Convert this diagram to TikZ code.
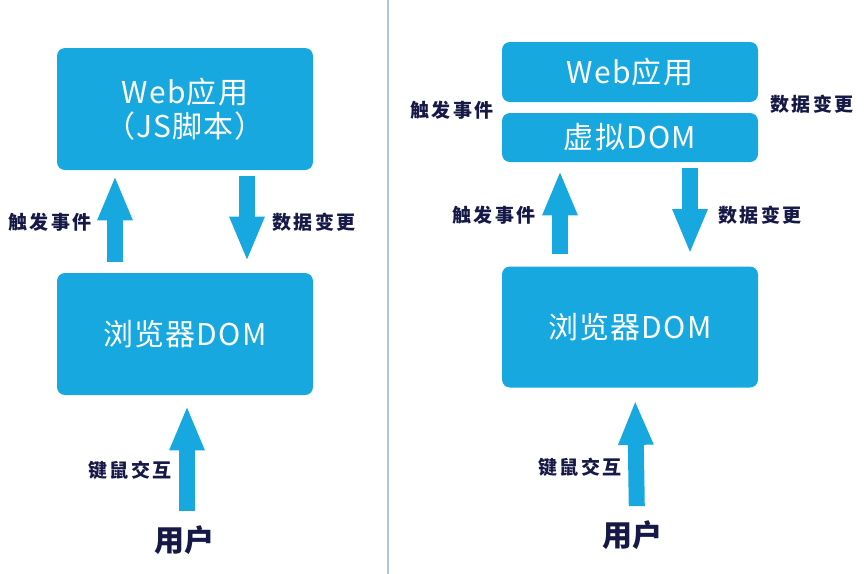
\documentclass[tikz,border=0pt]{standalone}
\usepackage{fontspec}
\setmainfont{Noto Sans CJK SC}
\usetikzlibrary{arrows.meta}
\definecolor{boxblue}{RGB}{24,168,224}
\definecolor{inkblue}{RGB}{22,24,70}
\definecolor{rulegray}{RGB}{170,200,220}
\begin{document}
\begin{tikzpicture}[x=.5pt,y=-.5pt,
 box/.style={fill=boxblue,rounded corners=4pt,minimum width=128pt,text=white,font=\fontsize{15}{17}\selectfont\addfontfeatures{LetterSpace=4},align=center},
 lbl/.style={text=inkblue,font=\fontsize{9.5}{11}\selectfont\bfseries\addfontfeatures{LetterSpace=14}},
 fat/.style={draw=boxblue,line width=8pt,-{Triangle[length=22.5pt,width=16pt]}}]
\useasboundingbox (0,0) rectangle (864,574);
\draw[rulegray,line width=.8pt] (388,0)--(388,574);
% left: without virtual DOM
\node[box,minimum height=61pt] (app1) at (185,109) {Web应用\\（JS脚本）};
\node[box,minimum height=61pt] (dom1) at (185,334) {浏览器DOM};
\node[lbl,font=\fontsize{15}{18}\selectfont\bfseries,inner sep=0pt] (user1) at (185,540) {用户};
\draw[fat,shorten <=5.5pt,shorten >=2.5pt] ([xshift=-35pt]dom1.north)--([xshift=-35pt]app1.south);
\draw[fat,shorten <=3pt,shorten >=5.5pt] ([xshift=31pt]app1.south)--([xshift=31pt]dom1.north);
\draw[fat,shorten <=7pt,shorten >=5pt] ([xshift=1pt]user1.north)--([xshift=1pt]dom1.south);
\node[lbl] (ev1) at (50,222) {触发事件};
\node[lbl] (chg1) at (314,222) {数据变更};
\node[lbl] (key1) at (130,470) {键鼠交互};
% right: with virtual DOM
\node[box,minimum height=30pt] (app2) at (630,72) {Web应用};
\node[box,minimum height=24.5pt] (vdom2) at (630,137.5) {虚拟DOM};
\node[box,minimum height=60.5pt] (dom2) at (630,327) {浏览器DOM};
\node[lbl,font=\fontsize{15}{18}\selectfont\bfseries,inner sep=0pt] (user2) at (632,535) {用户};
\draw[fat,shorten <=6pt,shorten >=4pt] ([xshift=-35pt]dom2.north)--([xshift=-35pt]vdom2.south);
\draw[fat,shorten <=3pt,shorten >=6pt] ([xshift=30pt]vdom2.south)--([xshift=30pt]dom2.north);
\draw[fat,shorten <=7pt,shorten >=6pt] ([xshift=2.5pt]user2.north)--([xshift=2.5pt]dom2.south);
\node[lbl] (ev2) at (452,110) {触发事件};
\node[lbl] (chg2) at (812,104) {数据变更};
\node[lbl] (ev3) at (494,215) {触发事件};
\node[lbl] (chg3) at (760,215) {数据变更};
\node[lbl] (key2) at (580,467) {键鼠交互};
\end{tikzpicture}
\end{document}
